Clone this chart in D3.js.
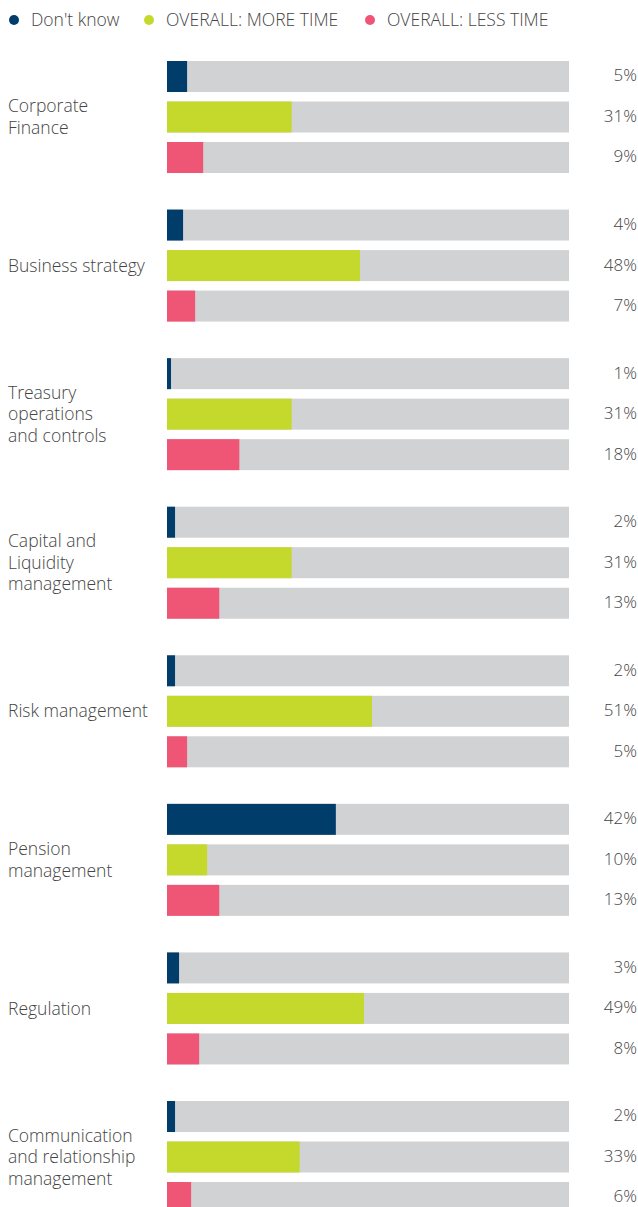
<!DOCTYPE html>
<html>
<head>
<meta charset="utf-8">
<script src="https://cdn.jsdelivr.net/npm/d3@7"></script>
<style>
  body { margin: 0; background: #fff; }
  svg text { font-family: "Open Sans", sans-serif; font-weight: 300; fill: #444; }
</style>
</head>
<body>
<div id="chart"></div>
<script>
// data
let CATEGORIES = [
  ["Corporate", "Finance"],
  ["Business strategy"],
  ["Treasury", "operations", "and controls"],
  ["Capital and", "Liquidity", "management"],
  ["Risk management"],
  ["Pension", "management"],
  ["Regulation"],
  ["Communication", "and relationship", "management"]
]
let SERIES = ["Don't know", "OVERALL: MORE TIME", "OVERALL: LESS TIME"]
let DONT_KNOW = [5, 4, 1, 2, 2, 42, 3, 2]
let MORE_TIME = [31, 48, 31, 31, 51, 10, 49, 33]
let LESS_TIME = [9, 7, 18, 13, 5, 13, 8, 6]
let COLORS = ["#003d6b", "#c5d92d", "#ef5675"]

// set the dimensions and margins of the graph
var margin = {top: 61, right: 69, bottom: 0, left: 167},
    width = 638 - margin.left - margin.right,
    height = 1207 - margin.top - margin.bottom;

var svg = d3.select("#chart")
  .append("svg")
    .attr("width", 638)
    .attr("height", 1207)

// legend
var legend = svg.append("g")
var legendX = [14, 149, 370]
SERIES.forEach(function(s, i) {
  legend.append("circle")
    .attr("cx", legendX[i])
    .attr("cy", 20)
    .attr("r", 5)
    .attr("fill", COLORS[i])
  legend.append("text")
    .attr("x", legendX[i] + 17)
    .attr("y", 20)
    .attr("dy", "0.35em")
    .style("font-size", "17.5px")
    .text(s)
})

var plot = svg.append("g")
  .attr("transform", "translate(" + margin.left + "," + margin.top + ")")

var x = d3.scaleLinear()
  .domain([0, 100])
  .range([0, width])

// group position: first group top at 0, last at 1040
var y = d3.scalePoint()
  .domain(d3.range(CATEGORIES.length))
  .range([0, 1040])

var inner = d3.scaleBand()
  .domain(d3.range(3))
  .range([0, 112])
  .paddingInner(0.235)

var data = CATEGORIES.map(function(c, i) {
  return {label: c, values: [DONT_KNOW[i], MORE_TIME[i], LESS_TIME[i]], index: i}
})

var groups = plot.selectAll("g.group")
  .data(data)
  .enter()
  .append("g")
  .attr("class", "group")
  .attr("transform", d => "translate(0," + y(d.index) + ")")

var bars = groups.selectAll("g.bar")
  .data(d => d.values.map((v, k) => ({value: v, k: k})))
  .enter()
  .append("g")
  .attr("class", "bar")

bars.append("rect")
  .attr("x", 0)
  .attr("y", d => inner(d.k))
  .attr("width", x(100))
  .attr("height", inner.bandwidth())
  .attr("fill", "#d1d2d4")

bars.append("rect")
  .attr("x", 0)
  .attr("y", d => inner(d.k))
  .attr("width", d => x(d.value))
  .attr("height", inner.bandwidth())
  .attr("fill", d => COLORS[d.k])

bars.append("text")
  .attr("x", 638 - margin.left - 1)
  .attr("y", d => inner(d.k) + inner.bandwidth() / 2 - 1)
  .attr("dy", "0.35em")
  .attr("text-anchor", "end")
  .style("font-size", "17px")
  .text(d => d.value + "%")

// category labels, centred on the middle bar
groups.append("text")
  .attr("x", 8 - margin.left)
  .attr("y", function(d) {
    var mid = inner(1) + inner.bandwidth() / 2
    return mid - (d.label.length - 1) * 21.5 / 2
  })
  .style("font-size", "17.5px")
  .selectAll("tspan")
  .data(d => d.label)
  .enter()
  .append("tspan")
  .attr("x", 8 - margin.left)
  .attr("dy", (d, i) => i == 0 ? "0.35em" : "21.5px")
  .text(d => d)
</script>
</body>
</html>
